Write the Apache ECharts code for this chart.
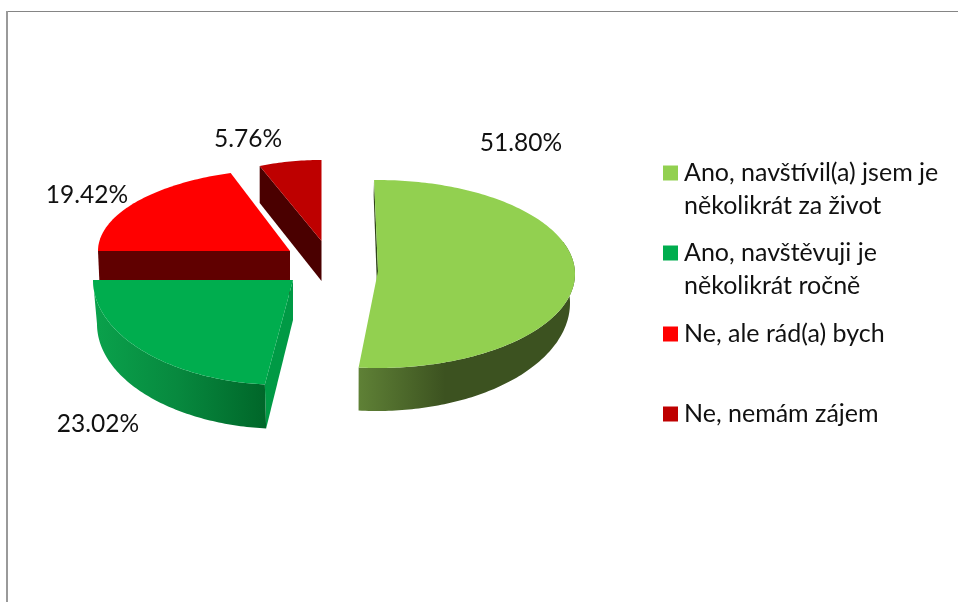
<!DOCTYPE html>
<html>
<head>
<meta charset="utf-8">
<style>html,body{margin:0;padding:0;background:#fff}#c{width:958px;height:602px}</style>
<script src="https://cdn.jsdelivr.net/npm/echarts@6/dist/echarts.min.js"></script>
</head>
<body>
<div id="c"></div>
<script>
const categories = [
  'Ano, navštívil(a) jsem je\nněkolikrát za život',
  'Ano, navštěvuji je\nněkolikrát ročně',
  'Ne, ale rád(a) bych',
  'Ne, nemám zájem'
];
const values = [51.80, 23.02, 19.42, 5.76];
const topColors = ['#92D050', '#00AD4E', '#FF0000', '#BE0000'];
const startWallColors = ['#2f4419', '#009A45', '#600000', '#4A0000'];

// Perspective geometry of each exploded slice (not data).
const geometry = [
  { ax: 378, ay: 271, cx: 377.5, cy: 274, rx: 197.5, ry: 94, bx: 377, by: 303, brx: 193, bry: 108,
    apexDepth: 43, shift: [-1, -1], wallFrom: 70, stops: [[0, '#5f8136'], [0.4, '#3c5220'], [1, '#3c5220']] },
  { ax: 293, ay: 280, cx: 283, cy: 280, rx: 190, ry: 105, bx: 284, by: 324, brx: 187, bry: 105,
    apexDepth: 40, shift: [-1, 0.65], wallFrom: 100, stops: [[0, '#0aa24c'], [0.5, '#07883e'], [1, '#006629']] },
  { ax: 290, ay: 251, cx: 290, cy: 251, rx: 192, ry: 82, bx: 290, by: 295, brx: 190, bry: 82,
    apexDepth: 44, shift: [0.65, 2.74], wallFrom: null },
  { ax: 321.5, ay: 241, cx: 321.5, cy: 241, rx: 165, ry: 81, bx: 321.5, by: 278, brx: 165, bry: 81,
    apexDepth: 40, shift: [-1.26, 0], wallFrom: null }
];
const drawOrder = [4, 3, 2, 1];
const labelPos = [[521, 143], [98, 424], [87, 195], [248, 139]];
const legendTop = [173, 253, 334, 414];
const FONT = 'Lato, Carlito, sans-serif';
const LABEL_SIZE = 24.5, LEGEND_SIZE = 25, LINE_H = 33;

function rim(cx, cy, rx, ry, deg) {
  const t = deg * Math.PI / 180;
  return [cx + rx * Math.sin(t), cy - ry * Math.cos(t)];
}
function arc(cx, cy, rx, ry, a, b) {
  const pts = [], n = Math.max(2, Math.ceil(Math.abs(b - a)));
  for (let i = 0; i <= n; i++) pts.push(rim(cx, cy, rx, ry, a + (b - a) * i / n));
  return pts;
}
const total = values.reduce((s, v) => s + v, 0);

function renderItem(params, api) {
  const i = params.dataIndex, g = geometry[i], z = drawOrder[i];
  let before = 0;
  for (let k = 0; k < i; k++) before += values[k];
  const a0 = before / total * 360 + g.shift[0];
  const a1 = (before + api.value(0)) / total * 360 + g.shift[1];
  const children = [];
  // start wall
  const p0 = rim(g.cx, g.cy, g.rx, g.ry, a0), q0 = rim(g.bx, g.by, g.brx, g.bry, a0);
  children.push({ type: 'polygon', z2: z * 10,
    shape: { points: [p0, q0, [g.ax, g.ay + g.apexDepth], [g.ax, g.ay]] },
    style: { fill: startWallColors[i] } });
  // outer wall
  if (g.wallFrom !== null) {
    const from = Math.max(a0, g.wallFrom);
    const pts = arc(g.cx, g.cy, g.rx, g.ry, from, a1).concat(arc(g.bx, g.by, g.brx, g.bry, a1, from));
    children.push({ type: 'polygon', z2: z * 10 + 1, shape: { points: pts },
      style: { fill: new echarts.graphic.LinearGradient(0, 0, 1, 0,
        g.stops.map(s => ({ offset: s[0], color: s[1] }))) } });
  }
  // top surface
  children.push({ type: 'polygon', z2: z * 10 + 2,
    shape: { points: [[g.ax, g.ay]].concat(arc(g.cx, g.cy, g.rx, g.ry, a0, a1)) },
    style: { fill: topColors[i] } });
  // value label
  children.push({ type: 'text', z2: 100,
    style: { x: labelPos[i][0], y: labelPos[i][1], text: api.value(0).toFixed(2) + '%',
      fill: '#111', font: LABEL_SIZE + 'px ' + FONT, textAlign: 'center', textVerticalAlign: 'middle' } });
  // legend entry
  children.push({ type: 'rect', z2: 100,
    shape: { x: 663, y: legendTop[i] - 7.5, width: 15, height: 15 },
    style: { fill: topColors[i] } });
  children.push({ type: 'text', z2: 100,
    style: { x: 684, y: legendTop[i] - LINE_H / 2, text: categories[i], lineHeight: LINE_H,
      fill: '#111', font: LEGEND_SIZE + 'px ' + FONT, textAlign: 'left', textVerticalAlign: 'top' } });
  return { type: 'group', children };
}

const chart = echarts.init(document.getElementById('c'), null, { renderer: 'canvas' });
chart.setOption({
  animation: false,
  backgroundColor: '#fff',
  graphic: [
    { type: 'rect', silent: true, shape: { x: 6, y: 11, width: 952, height: 1 }, style: { fill: '#858585' } },
    { type: 'rect', silent: true, shape: { x: 6, y: 11, width: 2, height: 591 }, style: { fill: '#9a9a9a' } }
  ],
  series: [{
    type: 'custom',
    coordinateSystem: 'none',
    silent: true,
    renderItem,
    data: values.map((v, i) => ({ name: categories[i], value: [v] }))
  }]
});
</script>
</body>
</html>
